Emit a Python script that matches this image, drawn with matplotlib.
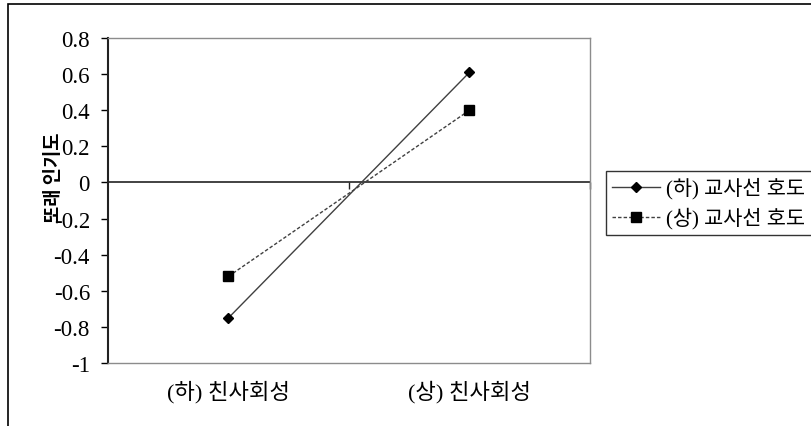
import matplotlib
matplotlib.use("Agg")
import matplotlib.pyplot as plt
from matplotlib.patches import Rectangle
from matplotlib.ticker import FuncFormatter

FAM = ['Liberation Serif', 'Noto Sans CJK KR', 'DejaVu Sans']
CJK = ['Noto Sans CJK KR', 'DejaVu Sans']
plt.rcParams['axes.unicode_minus'] = False
plt.rcParams['font.family'] = FAM

# ---- data ----
categories = ["(하) 친사회성", "(상) 친사회성"]
series_names = ["(하) 교사선 호도", "(상) 교사선 호도"]
low_teacher = [-0.75, 0.61]
high_teacher = [-0.52, 0.40]
y_ticks = [0.8, 0.6, 0.4, 0.2, 0.0, -0.2, -0.4, -0.6, -0.8, -1.0]
y_label = "또래 인기도"

W, H = 812, 427
fig = plt.figure(figsize=(W / 100, H / 100), dpi=100)
fig.patch.set_facecolor('white')

# outer chart frame
fig.patches.append(Rectangle((8 / W, -0.1), 1.2, (H - 5) / H + 0.1,
                             transform=fig.transFigure, fill=False,
                             edgecolor='black', linewidth=1.2))

ax = fig.add_axes([108 / W, (H - 364) / H, 482 / W, 325 / H])

x = [i + 0.5 for i in range(len(categories))]
ax.plot(x, low_teacher, color='#404040', linewidth=1.0, marker='D',
        markersize=5.5, markerfacecolor='black', markeredgecolor='black',
        label=series_names[0])
ax.plot(x, high_teacher, color='#404040', linewidth=1.0, linestyle=(0, (2.5, 1.5)),
        marker='s', markersize=7.5, markerfacecolor='black', markeredgecolor='black',
        label=series_names[1])

ax.set_xlim(0, len(categories))
ax.set_ylim(min(y_ticks), max(y_ticks))
ax.set_yticks(y_ticks)
ax.yaxis.set_major_formatter(FuncFormatter(lambda v, p: f"{round(v, 1):g}"))
ax.tick_params(axis='y', direction='out', length=5, width=1, color='black', pad=8,
               labelsize=16.5)

ax.set_xticks(x)
ax.set_xticklabels(categories, fontsize=16)
ax.tick_params(axis='x', length=0, pad=12)

for s in ['top', 'right', 'bottom']:
    ax.spines[s].set_color('#8c8c8c')
    ax.spines[s].set_linewidth(1.0)
ax.spines['left'].set_color('#222222')
ax.spines['left'].set_linewidth(1.5)

# zero (category) axis
sec = ax.secondary_xaxis(0, transform=ax.transData)
sec.set_xticks([1, 2])
sec.set_xticklabels([])
sec.tick_params(direction='out', length=5, width=1, color='#222222')
sec.spines['bottom'].set_color('#222222')
sec.spines['bottom'].set_linewidth(1.2)

fig.text(54 / W, 1 - 178 / H, y_label, rotation=90, ha='center', va='center',
         family=CJK, fontsize=13.5, fontweight='bold')

leg = ax.legend(loc='upper left', bbox_to_anchor=(606 / W, 1 - 172 / H),
                bbox_transform=fig.transFigure, frameon=True, fancybox=False,
                prop={'size': 15}, handlelength=2.3,
                handletextpad=0.3, borderpad=0.3, labelspacing=0.4,
                borderaxespad=0, markerscale=1.0)
leg.get_frame().set_edgecolor('black')
leg.get_frame().set_linewidth(1.0)

fig.savefig('out.png', dpi=100, facecolor='white')
